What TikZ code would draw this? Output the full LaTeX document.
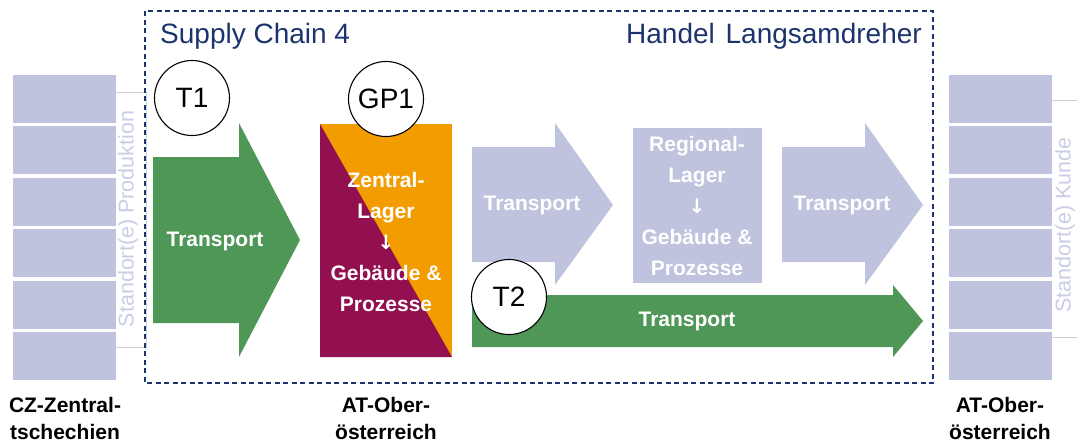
\documentclass[tikz,border=0pt]{standalone}
\usepackage{fontspec}
\setmainfont{Liberation Sans}
\newfontfamily\arrfont{DejaVu Sans}
\definecolor{navy}{RGB}{28,52,110}
\definecolor{lav}{RGB}{192,195,222}
\definecolor{lavtxt}{RGB}{202,205,230}
\definecolor{grn}{RGB}{78,151,86}
\definecolor{purp}{RGB}{147,16,80}
\definecolor{orng}{RGB}{243,156,0}
\definecolor{brk}{RGB}{205,205,205}
\newcommand{\darr}{{\arrfont\fontsize{20}{31}\selectfont\bfseries ↓}}
\tikzset{
  site/.style={fill=lav,draw=none},
  circ/.style={circle,draw=black,line width=1.1pt,fill=white,minimum size=75pt,inner sep=0pt,font=\fontsize{28}{30}\selectfont},
  wtxt/.style={text=white,font=\bfseries\fontsize{21}{31}\selectfont,align=center,inner sep=0pt},
  lbl/.style={text=black,font=\bfseries\fontsize{21}{27}\selectfont,align=center,inner sep=0pt},
  title/.style={text=navy,font=\fontsize{28}{30}\selectfont,inner sep=0pt},
  sidetxt/.style={text=lavtxt,font=\fontsize{21.5}{24}\selectfont,rotate=90,inner sep=0pt}
}
\begin{document}
\begin{tikzpicture}[x=1pt,y=-1pt]
\useasboundingbox (0,0) rectangle (1077,442);
% brackets
\draw[brk,line width=0.8pt] (116,92) -- (146,92) -- (146,347) -- (116,347);
\draw[brk,line width=0.8pt] (1052,100) -- (1077,100);
\draw[brk,line width=0.8pt] (1052,337) -- (1077,337);
% site boxes
\foreach \i in {0,...,5}{
  \fill[lav] (13,{75+\i*51.4}) rectangle (116,{123+\i*51.4});
  \fill[lav] (949,{75+\i*51.4}) rectangle (1052,{123+\i*51.4});
}
\node[sidetxt] (sp) at (128,219) {Standort(e) Produktion};
\node[sidetxt] (sk) at (1065,225) {Standort(e) Kunde};
% dashed frame
\draw[navy,line width=1.5pt,dash pattern=on 5pt off 3.5pt] (145,11) rectangle (933,383);
\node[title,anchor=base west] (sc) at (160,43) {Supply Chain 4};
\node[title,anchor=base east] (hl) at (922,43) {Handel\hspace{3pt} Langsamdreher};
% T1 arrow
\fill[grn] (153,157) -- (239,157) -- (239,123) -- (300,240) -- (239,357) -- (239,323) -- (153,323) -- cycle;
\node[wtxt] (t1t) at (215,241) {Transport};
% GP1 box
\fill[orng] (320,124) rectangle (452,357);
\fill[purp] (320,124) -- (452,357) -- (320,357) -- cycle;
\node[wtxt] (gpt) at (386,242) {Zentral-\\Lager\\\darr\\Gebäude \&\\Prozesse};
% light arrows
\fill[lav] (472,147) -- (555,147) -- (555,123) -- (613,205) -- (555,285) -- (555,262) -- (472,262) -- cycle;
\node[wtxt] (la1) at (532,205) {Transport};
\fill[lav] (633,128) rectangle (762,283);
\node[wtxt] (rl) at (697,206) {Regional-\\Lager\\\darr\\Gebäude \&\\Prozesse};
\fill[lav] (782,147) -- (865,147) -- (865,123) -- (923,205) -- (865,285) -- (865,262) -- (782,262) -- cycle;
\node[wtxt] (la2) at (842,205) {Transport};
% T2 arrow
\fill[grn] (472,295) -- (893,295) -- (893,285) -- (923,321) -- (893,357) -- (893,347) -- (472,347) -- cycle;
\node[wtxt] (t2t) at (687,321) {Transport};
% circles
\node[circ] (T1) at (192,98) {T1};
\node[circ] (GP1) at (386,99) {GP1};
\node[circ] (T2) at (509,297) {T2};
% bottom labels
\node[lbl] (l1) at (65,418) {CZ-Zentral-\\tschechien};
\node[lbl] (l2) at (386,418) {AT-Ober-\\österreich};
\node[lbl] (l3) at (1000,418) {AT-Ober-\\österreich};
\end{tikzpicture}
\end{document}
